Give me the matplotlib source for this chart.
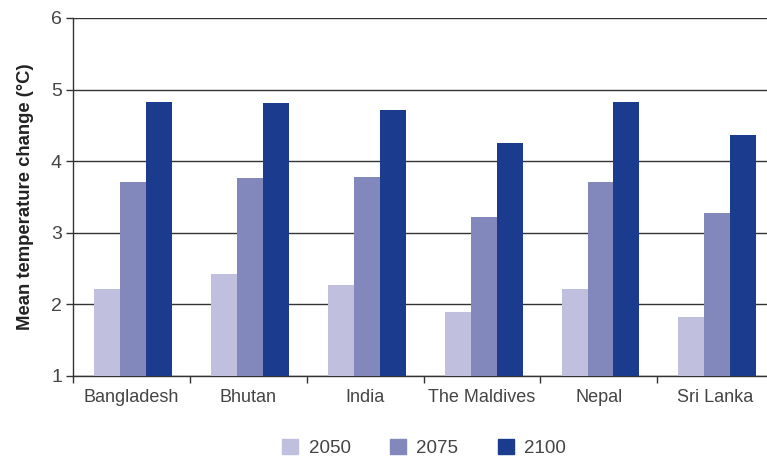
import numpy as np
import matplotlib
matplotlib.use('Agg')
from matplotlib import pyplot as plt
from matplotlib.patches import Patch

plt.rcParams['font.family'] = ['Liberation Sans', 'DejaVu Sans']

countries = ['Bangladesh', 'Bhutan', 'India', 'The Maldives', 'Nepal', 'Sri Lanka']
years = ['2050', '2075', '2100']
v2050 = [2.21, 2.42, 2.27, 1.90, 2.22, 1.83]
v2075 = [3.71, 3.76, 3.78, 3.22, 3.71, 3.28]
v2100 = [4.83, 4.81, 4.71, 4.25, 4.83, 4.36]
colors = ['#c0c0de', '#8288bc', '#1b3b8f']

text_col = '#444444'

fig = plt.figure(figsize=(7.67, 4.59), dpi=100)
ax = fig.add_axes([73 / 767, 1 - 376 / 459, 701 / 767, (376 - 18) / 459])

x = np.arange(len(countries))
w = 0.222
for i, vals in enumerate([v2050, v2075, v2100]):
    ax.bar(x + (i - 1) * w + 0.015, np.array(vals) - 1, w, bottom=1, color=colors[i], zorder=3)

ax.set_ylim(1, 6)
ax.set_xlim(-0.5, len(countries) - 0.5)
ax.set_yticks([1, 2, 3, 4, 5, 6])
ax.yaxis.grid(True, color='#333333', linewidth=1.0, zorder=0)
ax.set_xticks(x)
ax.set_xticklabels(countries)
ax.set_xticks(np.arange(len(countries) + 1) - 0.5, minor=True)
ax.tick_params(axis='x', which='major', length=0, pad=9, labelsize=13, labelcolor=text_col)
ax.tick_params(axis='x', which='minor', length=5, width=1, color='#333333', direction='out')
ax.tick_params(axis='y', length=5, width=1, color='#333333', labelsize=14, labelcolor=text_col, pad=3)

for s in ['top', 'right']:
    ax.spines[s].set_visible(False)
for s in ['left', 'bottom']:
    ax.spines[s].set_color('#333333')
    ax.spines[s].set_linewidth(1.0)

ax.set_ylabel('Mean temperature change (\u00b0C)', fontsize=13.3, fontweight='bold', color='#222222', labelpad=12)

handles = [Patch(color=c, label=y) for c, y in zip(colors, years)]
fig.legend(handles=handles, loc='center', bbox_to_anchor=(424 / 767, 1 - 448 / 459), ncol=3,
           frameon=False, fontsize=13.5, handlelength=0.85, handleheight=0.85, columnspacing=2.1,
           handletextpad=0.55, labelcolor=text_col)

fig.savefig('out.png', dpi=100)
